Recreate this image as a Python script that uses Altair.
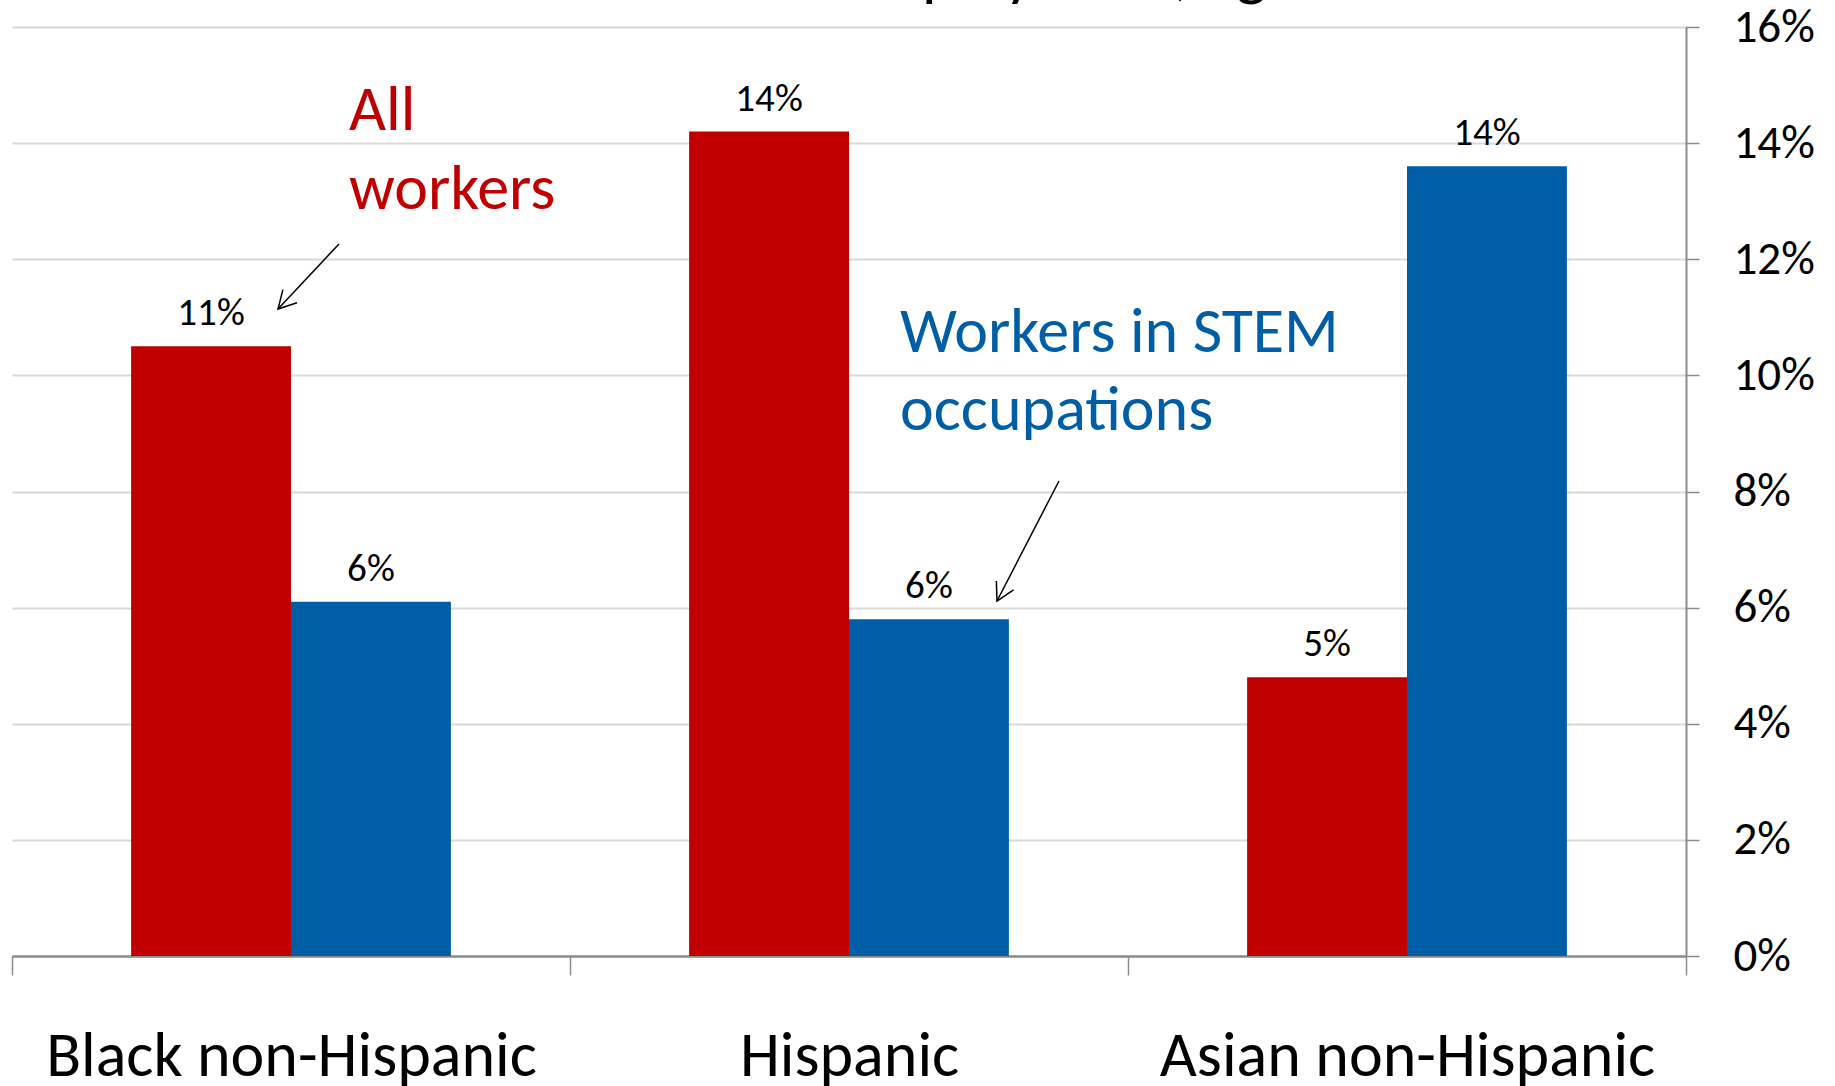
import altair as alt
import pandas as pd

# ---- data ----
categories = ["Black non-Hispanic", "Hispanic", "Asian non-Hispanic"]
series = ["All workers", "Workers in STEM occupations"]
all_workers = [10.5, 14.2, 4.8]      # percent
stem_workers = [6.1, 5.8, 13.6]      # percent
y_ticks = [0, 2, 4, 6, 8, 10, 12, 14, 16]
title_text = "Share of employment, ages 25+"

rows = []
for c, a, s in zip(categories, all_workers, stem_workers):
    rows.append({"group": c, "series": series[0], "value": a})
    rows.append({"group": c, "series": series[1], "value": s})
df = pd.DataFrame(rows)

FONT = "Carlito, Calibri, Lato, sans-serif"
RED = "#C00000"
BLUE = "#005EA6"
AXIS_GREY = "#8c8c8c"

x_enc = alt.X(
    "group:N",
    sort=categories,
    scale=alt.Scale(paddingInner=0, paddingOuter=0),
    axis=alt.Axis(
        title=None, orient="bottom", tickBand="extent", ticks=True, tickSize=19,
        tickColor=AXIS_GREY, tickWidth=1.5, domainColor=AXIS_GREY, domainWidth=2.5,
        labelFont=FONT, labelFontSize=64, labelColor="black", labelAngle=0,
        labelBaseline="alphabetic", labelPadding=100, labelLimit=0, grid=False,
    ),
)
y_enc = alt.Y(
    "value:Q",
    scale=alt.Scale(domain=[0, 16], nice=False),
    axis=alt.Axis(
        title=None, orient="right", values=y_ticks, labelExpr="datum.value + '%'",
        grid=True, gridColor="#d9d9d9", gridWidth=2,
        domainColor=AXIS_GREY, domainWidth=2, tickColor=AXIS_GREY, tickWidth=1.5,
        tickSize=13, labelFont=FONT, labelFontSize=47, labelColor="black",
        labelAlign="left", labelBaseline="middle", labelPadding=34,
    ),
)
xoff = alt.XOffset("series:N", sort=series,
                   scale=alt.Scale(paddingInner=0, paddingOuter=0.745))
color = alt.Color("series:N", scale=alt.Scale(domain=series, range=[RED, BLUE]), legend=None)

base = alt.Chart(df)
bars = base.mark_bar().encode(x=x_enc, xOffset=xoff, y=y_enc, color=color)
labels = base.transform_calculate(
    label="format(datum.value, '.0f') + '%'"
).mark_text(baseline="alphabetic", dy=-21, font=FONT, fontSize=39, color="black").encode(
    x=alt.X("group:N", sort=categories), xOffset=xoff, y="value:Q", text="label:N"
)

one = pd.DataFrame({"k": [0]})
ann = alt.Chart(one)

title = ann.mark_text(align="left", baseline="alphabetic", font=FONT, fontSize=65, color="black").encode(
    x=alt.value(593), y=alt.value(-34), text=alt.value(title_text)
)
all_txt = ann.mark_text(align="left", baseline="alphabetic", font=FONT, fontSize=64, color=RED,
                        lineHeight=79).encode(
    x=alt.value(337), y=alt.value(103), text=alt.value(["All", "workers"])
)
stem_txt = ann.mark_text(align="left", baseline="alphabetic", font=FONT, fontSize=64, color=BLUE,
                         lineHeight=78).encode(
    x=alt.value(888), y=alt.value(325), text=alt.value(["Workers in STEM", "occupations"])
)
arrow1 = ann.mark_rule(color="black", strokeWidth=1.5).encode(
    x=alt.value(327), y=alt.value(217), x2=alt.value(266), y2=alt.value(282)
)
head1 = ann.mark_point(shape="M -1 -0.55 L 0 0 L -1 0.55", filled=False, color="black",
                       strokeWidth=1.5, size=1225, angle=133, opacity=1).encode(
    x=alt.value(266), y=alt.value(282)
)
arrow2 = ann.mark_rule(color="black", strokeWidth=1.5).encode(
    x=alt.value(1047), y=alt.value(454), x2=alt.value(985), y2=alt.value(574)
)
head2 = ann.mark_point(shape="M -1 -0.55 L 0 0 L -1 0.55", filled=False, color="black",
                       strokeWidth=1.5, size=1225, angle=117, opacity=1).encode(
    x=alt.value(985), y=alt.value(574)
)

chart = alt.layer(bars, labels, title, all_txt, stem_txt, arrow1, head1, arrow2, head2).properties(
    width=1674, height=929,
    autosize=alt.AutoSizeParams(type="none"),
    padding={"left": 12, "top": 27, "right": 149, "bottom": 130},
    background="white",
).configure_view(stroke=None)

chart.save("out.html", embed_options={"renderer": "svg", "actions": False})
